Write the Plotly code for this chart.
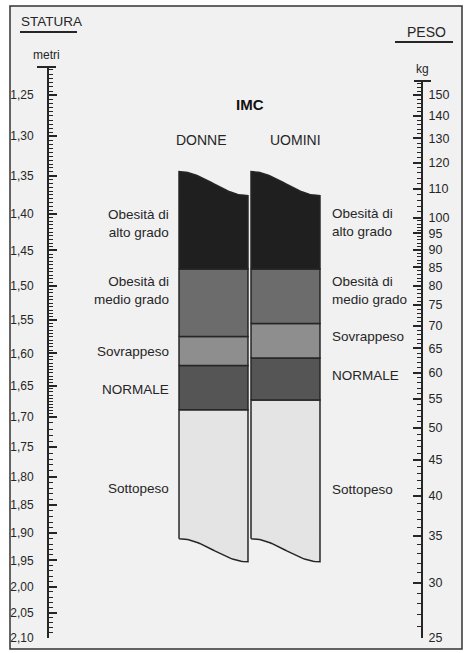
import numpy as np
import plotly.graph_objects as go

# ---------------- data ----------------
categories = ["DONNE", "UOMINI"]
class_names = ["Sottopeso", "NORMALE", "Sovrappeso",
               "Obesità di<br>medio grado", "Obesità di<br>alto grado"]
bmi_bounds_donne = [19, 24, 28, 40]
bmi_bounds_uomini = [20, 25, 30, 40]
column_top_bmi = [67, 59]      # wavy cut at the top (left, right)
column_bottom_bmi = [9.6, 8.5]  # wavy cut at the bottom (left, right)

height_ticks = [1.25, 1.30, 1.35, 1.40, 1.45, 1.50, 1.55, 1.60, 1.65, 1.70,
                1.75, 1.80, 1.85, 1.90, 1.95, 2.00, 2.05, 2.10]
height_ticktext = ["1,25", "1,30", "1,35", "1,40", "1,45", "1,50", "1,55", "1,60",
                   "1,65", "1,70", "1,75", "1,80", "1,85", "1,90", "1,95", "2,00",
                   "2,05", "2,10"]
weight_ticks = [25, 30, 35, 40, 45, 50, 55, 60, 65, 70, 75, 80, 85, 90, 95,
                100, 110, 120, 130, 140, 150]
weight_ticktext = [str(v) for v in weight_ticks]

# ---------------- style ----------------
W, H = 464, 653
FONT = "Liberation Sans, Arial, sans-serif"
INK = "#262626"
BG = "#f1f1f1"
class_colors = ["#e4e4e4", "#555555", "#8e8e8e", "#6c6c6c", "#1f1f1f"]
HALF_W = 0.479


def fx(px):
    return px / W


def fy(py):
    return 1 - py / H


fig = go.Figure()

# invisible anchors for the two measurement axes
fig.add_trace(go.Scatter(x=[0.5] * len(height_ticks), y=height_ticks, xaxis="x2", yaxis="y",
                         mode="markers", marker=dict(opacity=0), hoverinfo="skip", showlegend=False))
fig.add_trace(go.Scatter(x=[0.5] * len(weight_ticks), y=weight_ticks, xaxis="x2", yaxis="y2",
                         mode="markers", marker=dict(opacity=0), hoverinfo="skip", showlegend=False))

# columns
t = np.linspace(0, 1, 41)
s = (1 - np.cos(np.pi * t)) / 2


def wave(ci, ends):
    xs = ci - HALF_W + 2 * HALF_W * t
    ly = np.log10(ends[0]) + (np.log10(ends[1]) - np.log10(ends[0])) * s
    return xs, 10 ** ly


for ci, bounds in enumerate([bmi_bounds_donne, bmi_bounds_uomini]):
    for k in range(len(class_names)):
        if k == 0:
            lx, ly = wave(ci, column_bottom_bmi)
        else:
            lx = np.array([ci - HALF_W, ci + HALF_W])
            ly = np.array([bounds[k - 1]] * 2)
        if k == len(class_names) - 1:
            ux, uy = wave(ci, column_top_bmi)
        else:
            ux = np.array([ci - HALF_W, ci + HALF_W])
            uy = np.array([bounds[k]] * 2)
        xs = np.concatenate([lx, ux[::-1], lx[:1]])
        ys = np.concatenate([ly, uy[::-1], ly[:1]])
        fig.add_trace(go.Scatter(x=xs, y=ys, xaxis="x", yaxis="y3", mode="lines",
                                 fill="toself", fillcolor=class_colors[k],
                                 line=dict(color=INK, width=1.5),
                                 hoverinfo="skip", showlegend=False))

# class labels on both sides (pixel nudges: [left, right])
label_shift = {
    0: [-9, -14], 1: [-2, 3], 2: [0, 4], 3: [12, 6], 4: [3, 4]
}


def geo_mid(a, b):
    return float(np.sqrt(a * b))


top_mid = geo_mid(*column_top_bmi)
bot_mid = geo_mid(*column_bottom_bmi)
for side, bounds in enumerate([bmi_bounds_donne, bmi_bounds_uomini]):
    full = [bot_mid] + bounds + [top_mid]
    for k, name in enumerate(class_names):
        y = geo_mid(full[k], full[k + 1])
        if side == 0:
            fig.add_annotation(x=fx(171), xref="paper", y=np.log10(y), yref="y3",
                               text=name, showarrow=False, xanchor="right", yanchor="middle",
                               align="right", yshift=label_shift[k][0],
                               font=dict(family=FONT, size=13.5, color=INK))
        else:
            fig.add_annotation(x=fx(330), xref="paper", y=np.log10(y), yref="y3",
                               text=name, showarrow=False, xanchor="left", yanchor="middle",
                               align="left", yshift=label_shift[k][1],
                               font=dict(family=FONT, size=13.5, color=INK))

# column headers
for ci, name in enumerate(categories):
    fig.add_annotation(x=ci, xref="x", y=fy(140), yref="paper", text=name, showarrow=False,
                       xanchor="center", yanchor="middle",
                       xshift=[-12, 10][ci], font=dict(family=FONT, size=14, color=INK))
fig.add_annotation(x=0.5, xref="x", y=fy(104), yref="paper", text="<b>IMC</b>", showarrow=False,
                   xanchor="center", yanchor="middle",
                   font=dict(family=FONT, size=15, color="#111"))

# titles
fig.add_annotation(x=fx(19), xref="paper", y=fy(22), yref="paper", text="STATURA", showarrow=False,
                   xanchor="left", yanchor="middle", font=dict(family=FONT, size=13.5, color=INK))
fig.add_annotation(x=fx(46), xref="paper", y=fy(55), yref="paper", text="metri", showarrow=False,
                   xanchor="center", yanchor="middle", font=dict(family=FONT, size=12, color=INK))
fig.add_annotation(x=fx(426), xref="paper", y=fy(32), yref="paper", text="PESO", showarrow=False,
                   xanchor="center", yanchor="middle", font=dict(family=FONT, size=14, color=INK))
fig.add_annotation(x=fx(422), xref="paper", y=fy(69), yref="paper", text="kg", showarrow=False,
                   xanchor="center", yanchor="middle", font=dict(family=FONT, size=12, color=INK))

shapes = [
    dict(type="rect", xref="paper", yref="paper", x0=fx(10), x1=fx(462), y0=fy(649), y1=fy(6),
         fillcolor=BG, line=dict(color="#333", width=1.5), layer="below"),
    dict(type="line", xref="paper", yref="paper", x0=fx(20), x1=fx(77), y0=fy(32), y1=fy(32),
         line=dict(color=INK, width=2)),
    dict(type="line", xref="paper", yref="paper", x0=fx(395), x1=fx(453), y0=fy(42), y1=fy(42),
         line=dict(color=INK, width=2)),
    # axis end caps
    dict(type="line", xref="paper", yref="paper", x0=fx(37), x1=fx(56), y0=fy(67), y1=fy(67),
         line=dict(color=INK, width=2)),
    dict(type="line", xref="paper", yref="paper", x0=fx(414), x1=fx(431), y0=fy(81), y1=fy(81),
         line=dict(color=INK, width=2)),
]

height_minor = [round(v, 3) for v in np.arange(1.22, 1.7001, 0.005)] + \
               [round(v, 3) for v in np.arange(1.70, 2.1001, 0.01)]
weight_minor = list(range(25, 101)) + list(range(100, 157, 2))

fig.update_layout(
    width=W, height=H,
    margin=dict(l=0, r=0, t=0, b=0, pad=0, autoexpand=False),
    paper_bgcolor="white", plot_bgcolor="rgba(0,0,0,0)",
    shapes=shapes,
    xaxis=dict(domain=[fx(177.5), fx(321.5)], range=[-0.5, 1.5], anchor="y3", visible=False),
    yaxis3=dict(domain=[fy(600), fy(150)], type="log",
                range=[(966 - 600) / 435, (966 - 150) / 435], anchor="x", visible=False),
    xaxis2=dict(domain=[0, 1], range=[0, 1], anchor="y", visible=False),
    yaxis=dict(domain=[fy(638), fy(67)], type="log", anchor="free", position=fx(48),
               range=[np.log10(2.1004), np.log10(1.2167)], automargin=False,
               tickmode="array", tickvals=height_ticks, ticktext=height_ticktext,
               ticks="inside", ticklen=8, tickwidth=1.5, tickcolor=INK,
               showline=True, linewidth=2, linecolor=INK, showgrid=False, zeroline=False,
               ticklabelstandoff=11,
               tickfont=dict(family=FONT, size=12, color=INK),
               minor=dict(tickmode="array", tickvals=height_minor, ticks="inside",
                          ticklen=4, tickwidth=1, tickcolor=INK, showgrid=False)),
    yaxis2=dict(domain=[fy(638), fy(81)], type="log", anchor="free", position=fx(422), side="right",
                range=[np.log10(25), np.log10(157.1)], automargin=False,
                tickmode="array", tickvals=weight_ticks, ticktext=weight_ticktext,
                ticks="inside", ticklen=8, tickwidth=1.5, tickcolor=INK,
                showline=True, linewidth=2, linecolor=INK, showgrid=False, zeroline=False,
                ticklabelstandoff=3,
                tickfont=dict(family=FONT, size=12.5, color=INK),
                minor=dict(tickmode="array", tickvals=weight_minor, ticks="inside",
                           ticklen=4, tickwidth=1, tickcolor=INK, showgrid=False)),
)

fig.write_html("out.html", config={"displayModeBar": False},
               post_script="document.body.style.margin='0px';")
